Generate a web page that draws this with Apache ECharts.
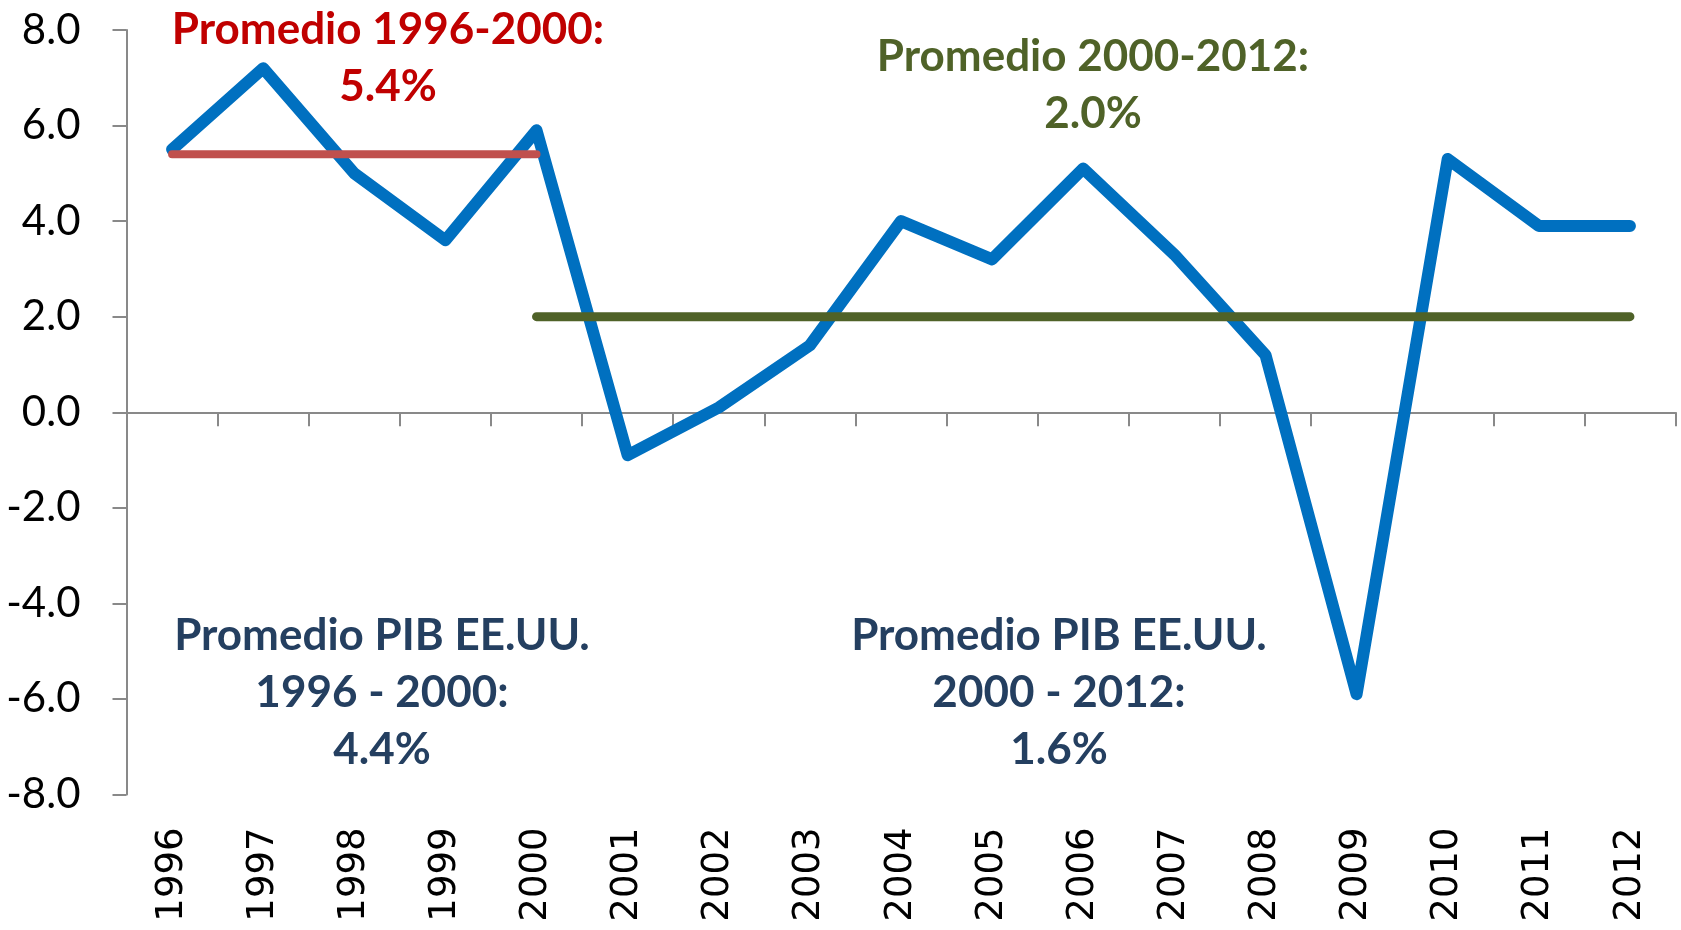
<!DOCTYPE html>
<html>
<head>
<meta charset="utf-8">
<script src="https://cdn.jsdelivr.net/npm/echarts@6/dist/echarts.min.js"></script>
<style>
  html, body { margin: 0; padding: 0; background: #fff; }
  #main { width: 1681px; height: 930px; }
</style>
</head>
<body>
<div id="main"></div>
<script>
// años del eje x
const years = ['1996', '1997', '1998', '1999', '2000', '2001', '2002', '2003', '2004',
  '2005', '2006', '2007', '2008', '2009', '2010', '2011', '2012'];
// crecimiento anual (%)
const crecimiento = [5.5, 7.2, 5.0, 3.6, 5.9, -0.9, 0.1, 1.4, 4.0, 3.2, 5.1, 3.3, 1.2, -5.9, 5.3, 3.9, 3.9];
// promedios por periodo
const promedio9600 = 5.4;
const promedio0012 = 2.0;
const yTicks = { min: -8, max: 8, interval: 2 };

const fontNum = 'Lato, "Open Sans", sans-serif';

// líneas de promedio, solo en su tramo
const lineaRoja = years.map((y, i) => (i <= 4 ? promedio9600 : '-'));
const lineaVerde = years.map((y, i) => (i >= 4 ? promedio0012 : '-'));

const myChart = echarts.init(document.getElementById('main'));
const option = {
  animation: false,
  backgroundColor: '#ffffff',
  grid: { left: 126.5, right: 5.5, top: 30, bottom: 135.5, containLabel: false },
  xAxis: [
    {
      // eje en cero con marcas
      type: 'category',
      data: years,
      boundaryGap: true,
      axisLine: { onZero: true, lineStyle: { color: '#898989', width: 2 } },
      axisTick: { show: true, length: 14, lineStyle: { color: '#898989', width: 2 } },
      axisLabel: { show: false },
      splitLine: { show: false },
    },
    {
      // etiquetas abajo
      type: 'category',
      data: years,
      position: 'bottom',
      boundaryGap: true,
      axisLine: { show: false, onZero: false },
      axisTick: { show: false },
      axisLabel: {
        rotate: 90,
        margin: 33,
        color: '#000',
        fontSize: 37,
        fontFamily: '"DejaVu Sans", sans-serif',
      },
    },
  ],
  yAxis: {
    type: 'value',
    min: yTicks.min,
    max: yTicks.max,
    interval: yTicks.interval,
    axisLine: { show: true, lineStyle: { color: '#898989', width: 2 } },
    axisTick: { show: true, length: 14, lineStyle: { color: '#898989', width: 2 } },
    splitLine: { show: false },
    axisLabel: {
      margin: 46,
      color: '#000',
      fontSize: 42,
      fontFamily: fontNum,
      formatter: v => v.toFixed(1),
    },
  },
  series: [
    {
      name: 'PIB',
      type: 'line',
      data: crecimiento,
      symbol: 'none',
      lineStyle: { color: '#0070C0', width: 12, cap: 'round', join: 'round' },
      z: 2,
    },
    {
      name: 'Promedio 1996-2000',
      type: 'line',
      data: lineaRoja,
      symbol: 'none',
      lineStyle: { color: '#C0504D', width: 8, cap: 'round' },
      z: 3,
    },
    {
      name: 'Promedio 2000-2012',
      type: 'line',
      data: lineaVerde,
      symbol: 'none',
      lineStyle: { color: '#4F6228', width: 9, cap: 'round' },
      z: 3,
    },
  ],
  graphic: [
    {
      type: 'text', x: 388, y: 1,
      style: {
        text: 'Promedio 1996-2000:\n5.4%', fill: '#C00000',
        font: 'bold 44px ' + fontNum, align: 'center', verticalAlign: 'top', lineHeight: 57,
      },
    },
    {
      type: 'text', x: 1093, y: 28,
      style: {
        text: 'Promedio 2000-2012:\n2.0%', fill: '#4F6228',
        font: 'bold 44px ' + fontNum, align: 'center', verticalAlign: 'top', lineHeight: 57,
      },
    },
    {
      type: 'text', x: 382, y: 607,
      style: {
        text: 'Promedio PIB EE.UU.\n1996 - 2000:\n4.4%', fill: '#243F60',
        font: 'bold 44px ' + fontNum, align: 'center', verticalAlign: 'top', lineHeight: 57,
      },
    },
    {
      type: 'text', x: 1059, y: 607,
      style: {
        text: 'Promedio PIB EE.UU.\n2000 - 2012:\n1.6%', fill: '#243F60',
        font: 'bold 44px ' + fontNum, align: 'center', verticalAlign: 'top', lineHeight: 57,
      },
    },
  ],
};
myChart.setOption(option);
</script>
</body>
</html>
